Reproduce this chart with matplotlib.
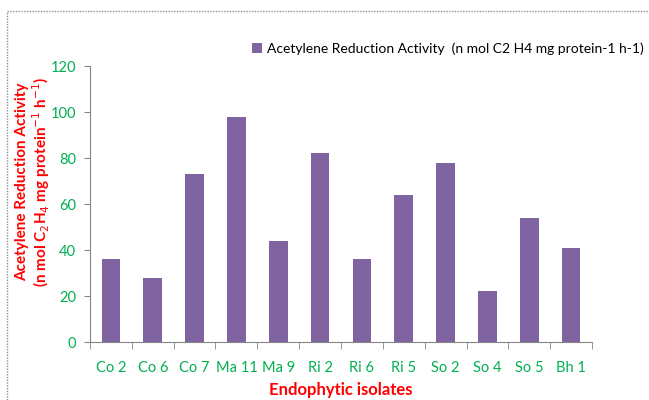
import matplotlib
matplotlib.use('Agg')
from matplotlib import pyplot as plt
from matplotlib.patches import Rectangle
import numpy as np

isolates = ['Co 2', 'Co 6', 'Co 7', 'Ma 11', 'Ma 9', 'Ri 2', 'Ri 6', 'Ri 5',
            'So 2', 'So 4', 'So 5', 'Bh 1']
activity = [36, 28, 73, 98, 44, 82, 36, 64, 78, 22, 54, 41]
yticks = [0, 20, 40, 60, 80, 100, 120]

purple = '#8064A2'
green = '#00B050'
red = '#FF0000'
grey = '#868686'

plt.rcParams['font.family'] = ['Lato', 'DejaVu Sans']

fig = plt.figure(figsize=(6.49, 4.0), dpi=100)
ax = fig.add_axes([90/649, 1-342/400, 502/649, 276/400])

# dotted chart frame
fig.patches.append(Rectangle((7/649, -0.1), 1.2, 1-11/400+0.1, transform=fig.transFigure,
                             fill=False, edgecolor='#909090', lw=1, ls=(0, (1, 1))))

x = np.arange(len(isolates))
ax.bar(x, activity, width=0.45, color=purple, zorder=2,
       label='Acetylene Reduction Activity  (n mol C2 H4 mg protein-1 h-1)')

ax.set_xlim(-0.5, len(isolates) - 0.5)
ax.set_ylim(0, 120)
ax.set_yticks(yticks)
ax.set_xticks(x)
ax.set_xticklabels(isolates)
ax.set_xticks(np.arange(-0.5, len(isolates)), minor=True)
ax.tick_params(axis='x', which='major', length=0, pad=14, labelcolor=green, labelsize=10.5)
ax.tick_params(axis='x', which='minor', length=5, color=grey, direction='out')
ax.tick_params(axis='y', length=4, color=grey, labelcolor=green, labelsize=10.5, pad=6)

for s in ['top', 'right']:
    ax.spines[s].set_visible(False)
for s in ['left', 'bottom']:
    ax.spines[s].set_color(grey)

ax.set_xlabel('Endophytic isolates', color=red, fontweight='bold', fontsize=12, labelpad=5)
ax.set_ylabel('Acetylene Reduction Activity\n(n mol C$_2$H$_4$ mg protein$^{-1}$ h$^{-1}$)',
              color=red, fontweight='bold', fontsize=11, linespacing=1.05)
ax.yaxis.label.set_va('center')
ax.yaxis.set_label_coords(-0.112, 0.58)

ax.legend(loc='lower left', bbox_to_anchor=(252/649, 1-55/400), bbox_transform=fig.transFigure,
          frameon=False, fontsize=10, handlelength=0.7, handleheight=0.7, handletextpad=0.4,
          borderaxespad=0, borderpad=0)

plt.savefig('out.png', dpi=100)
